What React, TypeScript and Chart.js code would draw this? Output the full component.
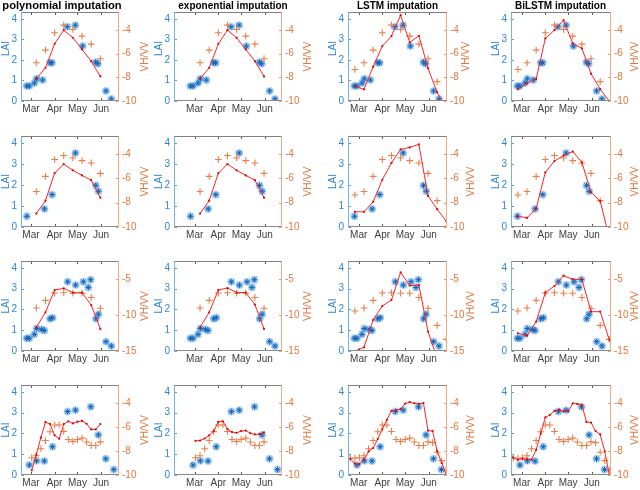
import React, { useEffect, useRef } from "react";
import { Chart, registerables } from "chart.js";

Chart.register(...registerables);

const FONT = "'Liberation Sans', Arial, Helvetica, sans-serif";

// ---------- tick labels / titles ----------
const monthDays = [60, 91, 121, 152];
const monthLabels = ["Mar", "Apr", "May", "Jun"];
const laiTicks = [0, 1, 2, 3, 4];
const vhTicks = [-10, -8, -6, -4];
const vhTicksWide = [-15, -10, -5];
const methodTitles = ["polynomial imputation", "exponential imputation", "LSTM imputation", "BiLSTM imputation"];

// ---------- acquisition dates (day of year) ----------
const s1Days = [55, 67, 79, 91, 103, 115, 127, 139, 151, 163, 175];
const s1DaysDense = [43, 49, 55, 61, 67, 73, 79, 85, 91, 97, 103, 109, 115, 121, 127, 133, 139, 145, 151, 157, 163, 169, 175];

// ---------- row 1 ----------
const r1LaiDays = [54.3, 57.8, 64.4, 67.4, 75.3, 84.9, 87.6, 107.7, 118.2, 127.8, 144.9, 147.9, 158.4, 165.4];
const r1Lai = [0.73, 0.73, 0.87, 1.08, 1.02, 1.86, 1.86, 3.61, 3.69, 2.67, 1.89, 1.81, 0.49, 0.1];
const r1Vh = [-7.34, -6.78, -5.71, -4.25, -3.61, -3.97, -4.53, -5.21, -6.44, -8.37];
const r1Poly = [-8.12, -7.2, -5.18, -4.03, -4.67, -5.65, -6.64, -7.93];
const r1Expo = [-8.12, -7.2, -5.18, -4.03, -4.67, -5.65, -6.64, -7.93];
const r1Lstm = [-8.74, -9.02, -7.11, -5.37, -4.53, -2.77, -5.07, -4.5, -7.25, -9.27, -10.6];
const r1Bilstm = [-9.02, -8.51, -8.15, -4.73, -4.03, -3.19, -5.15, -5.57, -7.7, -9.0, -10.0];

// ---------- row 2 ----------
const r2LaiDays = [54.5, 77.7, 87.7, 118.3, 145.1, 148.6];
const r2Lai = [0.51, 0.86, 1.54, 3.52, 1.98, 1.7];
const r2Vh = [-7.36, -7.08, -5.83, -4.44, -4.11, -4.31, -4.53, -4.72, -5.58, -7.83];
const r2Poly = [-8.89, -7.83, -5.56, -4.81, -5.33, -5.75, -6.14, -7.58];
const r2Expo = [-8.89, -7.83, -5.56, -4.81, -5.33, -5.75, -6.14, -7.58];
const r2Lstm = [-8.75, -8.75, -7.92, -6.11, -4.72, -3.61, -3.44, -3.19, -7.44, -8.53, -9.53];
const r2Bilstm = [-9.11, -9.25, -8.47, -5.5, -4.56, -4.11, -3.78, -4.67, -7.14, -7.86, -10.9];

// ---------- row 3 ----------
const r3LaiDays = [54.3, 57.8, 64.4, 67.4, 74.0, 77.5, 84.9, 88.4, 108.1, 118.6, 128.7, 135.2, 138.3, 145.3, 148.4, 158.4, 165.4];
const r3Lai = [0.61, 0.61, 0.8, 1.08, 1.04, 0.99, 1.55, 1.6, 3.33, 3.17, 3.33, 3.06, 3.43, 1.55, 1.77, 0.45, 0.24];
const r3Vh = [-9.44, -9.03, -7.97, -6.95, -6.9, -6.97, -6.97, -7.57, -9.07, -11.44, -13.38];
const r3Poly = [-11.71, -9.63, -6.53, -6.3, -6.9, -6.9, -8.61, -11.94];
const r3Expo = [-11.71, -9.63, -6.53, -6.25, -6.88, -6.88, -8.55, -11.94];
const r3Lstm = [-15.0, -14.49, -10.69, -8.75, -7.92, -4.07, -5.93, -5.83, -12.3, -16.0, -18.0];
const r3Bilstm = [-12.55, -12.87, -10.93, -6.9, -5.97, -4.54, -5.05, -5.05, -9.54, -9.54, -13.47];

// ---------- row 4 ----------
const r4LaiDays = [57.8, 67.4, 77.5, 88.2, 108.1, 118.4, 138.5, 148.4, 158.2, 168.7];
const r4Lai = [0.48, 0.68, 0.67, 1.36, 3.05, 3.12, 3.28, 1.93, 0.78, 0.26];
const r4Vh = [-8.6, -8.6, -8.56, -8.39, -7.81, -7.13, -6.39, -5.83, -5.83, -6.37, -7.04, -7.2, -7.04, -6.93, -7.25, -7.54, -7.54, -7.24, -7.3, -8.1, -8.8, -9.6];
const r4Poly = [-9.61, -8.31, -6.88, -5.6, -5.75, -6.69, -6.98, -5.75, -5.53, -5.7, -5.56, -5.49, -5.73, -6.2, -6.2, -5.75];
const r4Expo = [-7.15, -7.13, -6.96, -6.7, -6.34, -5.58, -5.52, -6.17, -6.42, -6.48, -6.34, -6.3, -6.52, -6.62, -6.6, -6.45];
const r4Lstm = [-8.5, -8.65, -9.05, -9.1, -8.7, -8.05, -7.75, -7.0, -6.2, -5.4, -4.65, -4.6, -4.5, -4.05, -3.92, -4.02, -4.08, -4.0, -6.3, -6.34, -8.03, -9.01, -10.0];
const r4Bilstm = [-8.2, -8.55, -8.73, -8.65, -8.7, -8.72, -7.9, -6.55, -5.2, -5.0, -4.65, -4.56, -4.7, -4.7, -4.03, -4.08, -4.17, -5.58, -5.63, -6.34, -6.62, -8.03, -10.0];

// ---------- layout (pixels) ----------
const colLeft = [21, 174, 348, 511];
const colRight = [119, 282, 447, 611];
const rowTop = [12, 136, 261, 385];
const rowBottom = [101, 227, 351, 475];
const colDayMin = [46.9, 32.8, 46.0, 46.0];
const colDayMax = [175.5, 174.6, 175.9, 177.2];
const titleCenter = [62, 233, 397.5, 560.5];
const titleSize = [11.2, 10, 10, 10];
const vhLabelOffsets = [26, 26, 24.5, 24];
const laiLabelRowShift = [-8, 0, 0, 0];
const LW = 30, RW = 36, TP = 14, BH = 16;

const BLUE_TXT = "#3186d2";
const ORANGE_TXT = "#e0773f";

type Panel = {
  row: number; col: number;
  laiX: number[]; laiY: number[];
  vhX: number[]; vhY: number[];
  impX: number[]; impY: number[];
  rMin: number; rTicks: number[];
  vhLabelOffset: number;
};

function buildPanels(): Panel[] {
  const rowsData = [
    { laiX: r1LaiDays, laiY: r1Lai, vhX: s1Days.slice(0, 10), vhY: r1Vh, imps: [r1Poly, r1Expo, r1Lstm, r1Bilstm], rMin: -10, rTicks: vhTicks, dense: false },
    { laiX: r2LaiDays, laiY: r2Lai, vhX: s1Days.slice(0, 10), vhY: r2Vh, imps: [r2Poly, r2Expo, r2Lstm, r2Bilstm], rMin: -10, rTicks: vhTicks, dense: false },
    { laiX: r3LaiDays, laiY: r3Lai, vhX: s1Days, vhY: r3Vh, imps: [r3Poly, r3Expo, r3Lstm, r3Bilstm], rMin: -15, rTicks: vhTicksWide, dense: false },
    { laiX: r4LaiDays, laiY: r4Lai, vhX: s1DaysDense.slice(1), vhY: r4Vh, imps: [r4Poly, r4Expo, r4Lstm, r4Bilstm], rMin: -10, rTicks: vhTicks, dense: true },
  ];
  const out: Panel[] = [];
  rowsData.forEach((r, row) => {
    for (let col = 0; col < 4; col++) {
      const classic = col < 2;
      let vhX = r.vhX, vhY = r.vhY, impX: number[];
      if (r.dense) {
        if (classic) { vhX = r.vhX.slice(2, 18); vhY = r.vhY.slice(2, 18); impX = s1DaysDense.slice(3, 19); }
        else impX = s1DaysDense;
      } else {
        if (classic) { vhX = r.vhX.slice(1, 9); vhY = r.vhY.slice(1, 9); impX = s1Days.slice(1, 9); }
        else impX = s1Days;
      }
      out.push({
        row, col, laiX: r.laiX, laiY: r.laiY, vhX, vhY, impX, impY: r.imps[col],
        rMin: r.rMin, rTicks: r.rTicks,
        vhLabelOffset: row === 0 && col === 2 ? 19 : vhLabelOffsets[col],
      });
    }
  });
  return out;
}

const panels = buildPanels();

function pts(xs: number[], ys: number[]) {
  return xs.map((x, i) => ({ x, y: ys[i] }));
}

function PanelChart({ p }: { p: Panel }) {
  const ref = useRef<HTMLCanvasElement | null>(null);
  const plotW = colRight[p.col] - colLeft[p.col];
  const plotH = rowBottom[p.row] - rowTop[p.row];
  const W = LW + plotW + RW;
  const H = TP + plotH + BH;
  const left = colLeft[p.col] - LW;
  const top = rowTop[p.row] - TP;

  useEffect(() => {
    const canvas = ref.current;
    if (!canvas) return;
    const lai = pts(p.laiX, p.laiY);
    const decor = {
      id: "decor",
      afterDraw(chart: any) {
        const ctx = chart.ctx as CanvasRenderingContext2D;
        const a = chart.chartArea;
        const sx = chart.scales.x, sl = chart.scales.yL, sr = chart.scales.yR;
        const L = Math.round(a.left) + 0.5, R = Math.round(a.right) - 0.5;
        const T = Math.round(a.top) + 0.5, B = Math.round(a.bottom) - 0.5;
        ctx.save();
        ctx.lineWidth = 1;
        const seg = (x1: number, y1: number, x2: number, y2: number, c: string) => {
          ctx.strokeStyle = c; ctx.beginPath(); ctx.moveTo(x1, y1); ctx.lineTo(x2, y2); ctx.stroke();
        };
        // inward tick marks
        for (const d of monthDays) {
          const px = Math.round(sx.getPixelForValue(d)) + 0.5;
          seg(px, T, px, T + 2.5, "#555555");
          seg(px, B, px, B - 2.5, "#555555");
        }
        for (const v of laiTicks) {
          const py = Math.round(sl.getPixelForValue(v)) + 0.5;
          seg(L, py, L + 2.5, py, "#5b9bd8");
        }
        for (const v of p.rTicks) {
          const py = Math.round(sr.getPixelForValue(v)) + 0.5;
          seg(R, py, R - 2.5, py, "#eb9a70");
        }
        // box
        seg(L - 0.5, T, R + 0.5, T, "#808080");
        seg(L - 0.5, B, R + 0.5, B, "#8a8a8a");
        seg(L, T, L, B, "#78b0e2");
        seg(R, T, R, B, "#f0ab86");
        // axis labels
        ctx.font = `10px ${FONT}`;
        ctx.textAlign = "center";
        ctx.textBaseline = "middle";
        const midY = (a.top + a.bottom) / 2;
        ctx.fillStyle = BLUE_TXT;
        ctx.save();
        ctx.translate(a.left - 14.5, midY + laiLabelRowShift[p.row]);
        ctx.rotate(-Math.PI / 2);
        ctx.fillText("LAI", 0, 0);
        ctx.restore();
        ctx.fillStyle = ORANGE_TXT;
        ctx.save();
        ctx.translate(a.right + p.vhLabelOffset, midY);
        ctx.rotate(-Math.PI / 2);
        ctx.fillText("VH/VV", 0, 0);
        ctx.restore();
        // panel title
        if (p.row === 0) {
          ctx.font = `bold ${titleSize[p.col]}px ${FONT}`;
          ctx.fillStyle = "#000000";
          ctx.textBaseline = "alphabetic";
          ctx.fillText(methodTitles[p.col], titleCenter[p.col] - left, a.top - 3);
        }
        ctx.restore();
      },
    };

    const chart = new Chart(canvas, {
      type: "scatter",
      data: {
        datasets: [
          {
            type: "line",
            data: pts(p.impX, p.impY),
            xAxisID: "x", yAxisID: "yR",
            borderColor: "#ff2222", borderWidth: 1,
            pointRadius: 1.1, pointBackgroundColor: "#e00000", pointBorderWidth: 0,
            fill: false, tension: 0, order: 0, clip: 0,
          } as any,
          {
            type: "scatter",
            data: pts(p.vhX, p.vhY),
            xAxisID: "x", yAxisID: "yR",
            pointStyle: "cross", pointRadius: 3.4, borderColor: "#e8804a", borderWidth: 1.1,
            order: 1, clip: 0,
          } as any,
          {
            type: "scatter",
            data: lai,
            xAxisID: "x", yAxisID: "yL",
            pointStyle: "star", pointRadius: 3, borderColor: "#1565b5", borderWidth: 1,
            order: 2,
          } as any,
          {
            type: "scatter",
            data: lai,
            xAxisID: "x", yAxisID: "yL",
            pointStyle: "circle", pointRadius: 4, backgroundColor: "rgba(115,180,238,0.55)", borderWidth: 0,
            order: 3,
          } as any,
        ],
      },
      options: {
        animation: false,
        responsive: false,
        maintainAspectRatio: false,
        devicePixelRatio: 1,
        events: [],
        layout: { padding: { top: TP, left: 0, right: 0, bottom: 0 }, autoPadding: false } as any,
        plugins: { legend: { display: false }, tooltip: { enabled: false }, title: { display: false } },
        scales: {
          x: {
            type: "linear", position: "bottom",
            min: colDayMin[p.col], max: colDayMax[p.col],
            grid: { display: false, drawTicks: false },
            border: { display: false },
            ticks: {
              autoSkip: false, maxRotation: 0, minRotation: 0, padding: 2,
              color: "#404040", font: { family: FONT, size: 10 },
              callback: (v: any) => { const i = monthDays.indexOf(Number(v)); return i >= 0 ? monthLabels[i] : ""; },
            },
            afterBuildTicks: (s: any) => { s.ticks = monthDays.map((v) => ({ value: v })); },
            afterFit: (s: any) => { s.height = BH; },
          },
          yL: {
            type: "linear", position: "left", min: 0, max: 4.33,
            grid: { display: false, drawTicks: false },
            border: { display: false },
            ticks: { padding: 4, color: BLUE_TXT, font: { family: FONT, size: 10 } },
            afterBuildTicks: (s: any) => { s.ticks = laiTicks.map((v) => ({ value: v })); },
            afterFit: (s: any) => { s.width = LW; },
          },
          yR: {
            type: "linear", position: "right", min: p.rMin, max: -2.5,
            grid: { display: false, drawTicks: false },
            border: { display: false },
            ticks: { padding: 3, color: ORANGE_TXT, font: { family: FONT, size: 10 } },
            afterBuildTicks: (s: any) => { s.ticks = p.rTicks.map((v) => ({ value: v })); },
            afterFit: (s: any) => { s.width = RW; },
          },
        } as any,
      },
      plugins: [decor],
    } as any);
    return () => chart.destroy();
  }, []);

  return (
    <canvas
      ref={ref}
      width={W}
      height={H}
      style={{ position: "absolute", left, top, width: W, height: H }}
    />
  );
}

export default function App() {
  return (
    <div style={{ position: "absolute", left: 0, top: 0, width: 640, height: 490, background: "#ffffff", overflow: "hidden" }}>
      {panels.map((p) => (
        <PanelChart key={`${p.row}-${p.col}`} p={p} />
      ))}
    </div>
  );
}
